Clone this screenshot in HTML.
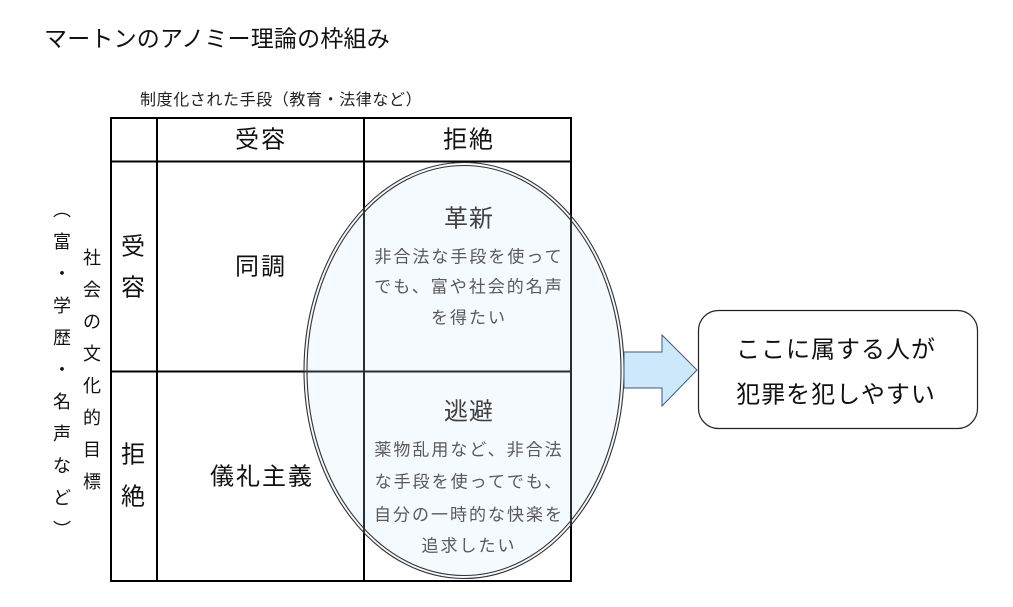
<!DOCTYPE html>
<html><head><meta charset="utf-8">
<style>
html,body{margin:0;padding:0;background:#fff;}
svg{display:block;}
text{font-family:"Liberation Sans","Noto Sans CJK JP",sans-serif;}
</style></head>
<body>
<svg width="1013" height="607" viewBox="0 0 1013 607" xmlns="http://www.w3.org/2000/svg">
<rect width="1013" height="607" fill="#fff"/>
<text x="44" y="38.5" font-size="23" dominant-baseline="central" fill="#111" letter-spacing="0.2">マートンのアノミー理論の枠組み</text>
<text x="140" y="100.5" font-size="16" dominant-baseline="central" fill="#222" letter-spacing="0.6">制度化された手段（教育・法律など）</text>

<!-- table -->
<g stroke="#000" stroke-width="2" fill="none">
<rect x="111" y="118" width="460" height="463"/>
<line x1="157" y1="118" x2="157" y2="581"/>
<line x1="364" y1="118" x2="364" y2="581"/>
<line x1="111" y1="161.5" x2="571" y2="161.5"/>
<line x1="111" y1="371.5" x2="571" y2="371.5"/>
</g>

<g font-size="24" fill="#111" text-anchor="middle" dominant-baseline="central">
<text x="261" y="140" letter-spacing="2">受容</text>
<text x="469" y="140" letter-spacing="2">拒絶</text>
<text x="261" y="267" letter-spacing="2">同調</text>
<text x="262" y="477" letter-spacing="2">儀礼主義</text>
<text x="133" y="247">受</text>
<text x="133" y="288">容</text>
<text x="133" y="455">拒</text>
<text x="133" y="497">絶</text>
</g>

<!-- left vertical labels -->
<g font-size="18" fill="#111" text-anchor="middle" dominant-baseline="central">
<text x="62" y="210">︵</text>
<text x="62" y="242">富</text>
<text x="62" y="274">・</text>
<text x="62" y="306">学</text>
<text x="62" y="338">歴</text>
<text x="62" y="370">・</text>
<text x="62" y="402">名</text>
<text x="62" y="434">声</text>
<text x="62" y="466">な</text>
<text x="62" y="498">ど</text>
<text x="62" y="530">︶</text>
<text x="92" y="258">社</text>
<text x="92" y="290">会</text>
<text x="92" y="322">の</text>
<text x="92" y="354">文</text>
<text x="92" y="386">化</text>
<text x="92" y="418">的</text>
<text x="92" y="450">目</text>
<text x="92" y="482">標</text>
</g>

<!-- ellipse -->
<ellipse cx="464" cy="370.5" rx="160" ry="208" fill="rgb(205,230,255)" fill-opacity="0.2" stroke="none"/>
<ellipse cx="464" cy="370.5" rx="160" ry="208" fill="none" stroke="#333" stroke-width="1.1"/>
<ellipse cx="464" cy="370.5" rx="157" ry="205" fill="none" stroke="#333" stroke-width="1.1"/>

<g text-anchor="middle" dominant-baseline="central">
<text x="469" y="219" font-size="24" fill="#404040" letter-spacing="1">革新</text>
<g font-size="17" fill="#595959" letter-spacing="2">
<text x="469" y="257">非合法な手段を使って</text>
<text x="469" y="287">でも、富や社会的名声</text>
<text x="469" y="318">を得たい</text>
</g>
<text x="469" y="412" font-size="24" fill="#404040" letter-spacing="1">逃避</text>
<g font-size="17" fill="#595959" letter-spacing="2">
<text x="469" y="450">薬物乱用など、非合法</text>
<text x="469" y="482">な手段を使ってでも、</text>
<text x="469" y="515">自分の一時的な快楽を</text>
<text x="469" y="546">追求したい</text>
</g>
</g>

<!-- arrow -->
<path d="M624,352 L662,352 L662,335 L697,370 L662,406 L662,388 L624,388 Z" fill="#cde8fb" stroke="#3f5a80" stroke-width="1"/>

<!-- result box -->
<rect x="698.5" y="310.5" width="279" height="118" rx="20" ry="20" fill="#fff" stroke="#222" stroke-width="1.2"/>
<g font-size="24" fill="#111" text-anchor="middle" dominant-baseline="central" letter-spacing="1">
<text x="836" y="350">ここに属する人が</text>
<text x="836" y="395">犯罪を犯しやすい</text>
</g>
</svg>
</body></html>
